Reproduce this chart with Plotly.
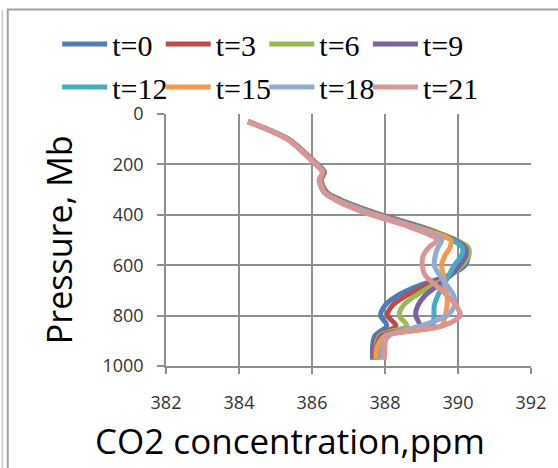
import plotly.graph_objects as go

pressure = [30, 100, 180, 230, 262, 310, 340, 390, 450, 500, 530, 560, 600, 640, 680, 720, 760, 800, 840, 880, 920, 975]

series_names = ["t=0", "t=3", "t=6", "t=9", "t=12", "t=15", "t=18", "t=21"]

co2_t0 = [384.25, 385.35, 385.98, 386.32, 386.22, 386.36, 386.72, 387.60, 388.95, 389.85, 390.15, 390.28, 390.20, 389.75, 388.95, 388.35, 388.00, 387.88, 388.05, 387.72, 387.66, 387.66]
co2_t3 = [384.25, 385.36, 386.00, 386.34, 386.25, 386.40, 386.78, 387.70, 389.05, 389.90, 390.15, 390.25, 390.10, 389.75, 389.15, 388.60, 388.20, 388.07, 388.30, 387.80, 387.72, 387.72]
co2_t6 = [384.25, 385.35, 385.99, 386.33, 386.24, 386.38, 386.76, 387.66, 389.00, 389.95, 390.28, 390.30, 390.12, 389.80, 389.30, 388.85, 388.50, 388.39, 388.60, 387.85, 387.76, 387.75]
co2_t9 = [384.25, 385.35, 385.99, 386.33, 386.23, 386.37, 386.74, 387.63, 388.98, 389.90, 390.20, 390.22, 390.05, 389.80, 389.45, 389.10, 388.90, 388.84, 388.95, 387.90, 387.78, 387.76]
co2_t12 = [384.25, 385.34, 385.97, 386.31, 386.20, 386.34, 386.70, 387.58, 388.92, 389.85, 390.12, 390.10, 389.90, 389.75, 389.60, 389.45, 389.35, 389.34, 389.30, 388.00, 387.82, 387.80]
co2_t15 = [384.25, 385.34, 385.97, 386.30, 386.20, 386.33, 386.68, 387.55, 388.88, 389.80, 389.78, 389.65, 389.55, 389.60, 389.65, 389.70, 389.70, 389.65, 389.55, 388.00, 387.80, 387.75]
co2_t18 = [384.25, 385.33, 385.96, 386.29, 386.20, 386.32, 386.65, 387.50, 388.80, 389.55, 389.45, 389.38, 389.35, 389.50, 389.70, 389.88, 389.90, 389.70, 389.00, 388.10, 387.95, 387.92]
co2_t21 = [384.25, 385.32, 385.95, 386.28, 386.22, 386.34, 386.62, 387.40, 388.70, 389.42, 389.20, 389.05, 389.02, 389.10, 389.40, 389.70, 389.95, 390.06, 389.60, 388.05, 388.00, 387.98]

all_series = [co2_t0, co2_t3, co2_t6, co2_t9, co2_t12, co2_t15, co2_t18, co2_t21]
colors = ["#4A7EBB", "#BE4B48", "#98B954", "#7D60A0", "#46AAC5", "#F39A4E", "#93AAD2", "#D99694"]

x_ticks = [382, 384, 386, 388, 390, 392]
y_ticks = [0, 200, 400, 600, 800, 1000]

# plot area in pixels: x 166..535, y 114..366
W, H = 558, 468
L, R, T, B = 166, 535, 114, 366
def px(x):
    return (x - L) / (R - L)
def py(y):
    return (B - y) / (B - T)

fig = go.Figure()
legends = {}
LX, STEP = 56, 104.7
ROW_Y = [18, 61]
for i, (name, vals, col) in enumerate(zip(series_names, all_series, colors)):
    lid = "legend" if i == 0 else f"legend{i + 1}"
    fig.add_trace(go.Scatter(x=vals, y=pressure, mode="lines", name=name, legend=lid,
                             line=dict(color=col, width=5, shape="spline", smoothing=0.8)))
    legends[lid] = dict(orientation="h", xanchor="left", yanchor="top",
                        x=px(LX + (i % 4) * STEP), y=py(ROW_Y[i // 4]),
                        font=dict(family="Liberation Serif", size=30, color="black"),
                        itemwidth=45, entrywidth=70, entrywidthmode="pixels",
                        bgcolor="rgba(0,0,0,0)")

grid_col = "#8f8f8f"
fig.update_layout(
    width=W, height=H,
    margin=dict(l=L, r=W - R, t=T, b=H - B),
    paper_bgcolor="white", plot_bgcolor="white",
    showlegend=True,
    xaxis=dict(range=[382, 392], tickvals=x_ticks, ticktext=[str(v) for v in x_ticks],
               showgrid=True, gridcolor=grid_col, gridwidth=1.5,
               showline=True, linecolor=grid_col, linewidth=1.5,
               ticks="outside", ticklen=6, tickcolor=grid_col, tickwidth=1.5,
               ticklabelstandoff=14, zeroline=False,
               tickfont=dict(family="Open Sans", size=18, color="#333333")),
    yaxis=dict(range=[1000, 0], tickvals=y_ticks, ticktext=[str(v) for v in y_ticks],
               showgrid=True, gridcolor=grid_col, gridwidth=1.5,
               showline=True, linecolor=grid_col, linewidth=1.5,
               ticks="outside", ticklen=7, tickcolor=grid_col, tickwidth=1.5,
               ticklabelstandoff=10, zeroline=False,
               tickfont=dict(family="Open Sans", size=18, color="#333333")),
    annotations=[
        dict(text="CO2 concentration,ppm", xref="paper", yref="paper", x=px(291), y=py(440),
             xanchor="center", yanchor="middle", showarrow=False,
             font=dict(family="Open Sans", size=35, color="black")),
        dict(text="Pressure, Mb", xref="paper", yref="paper", x=px(58), y=py(240),
             xanchor="center", yanchor="middle", showarrow=False, textangle=-90,
             font=dict(family="Open Sans", size=34, color="black")),
    ],
    shapes=[
        dict(type="rect", xref="paper", yref="paper", x0=px(6), x1=px(600), y0=py(9.5), y1=py(520),
             line=dict(color="#a0a0a0", width=2), layer="below"),
        dict(type="line", xref="paper", yref="paper", x0=px(0.5), x1=px(0.5), y0=py(10), y1=py(470),
             line=dict(color="#c8c8c8", width=1.5), layer="below"),
    ],
    **legends,
)

fig.write_html("out.html")
